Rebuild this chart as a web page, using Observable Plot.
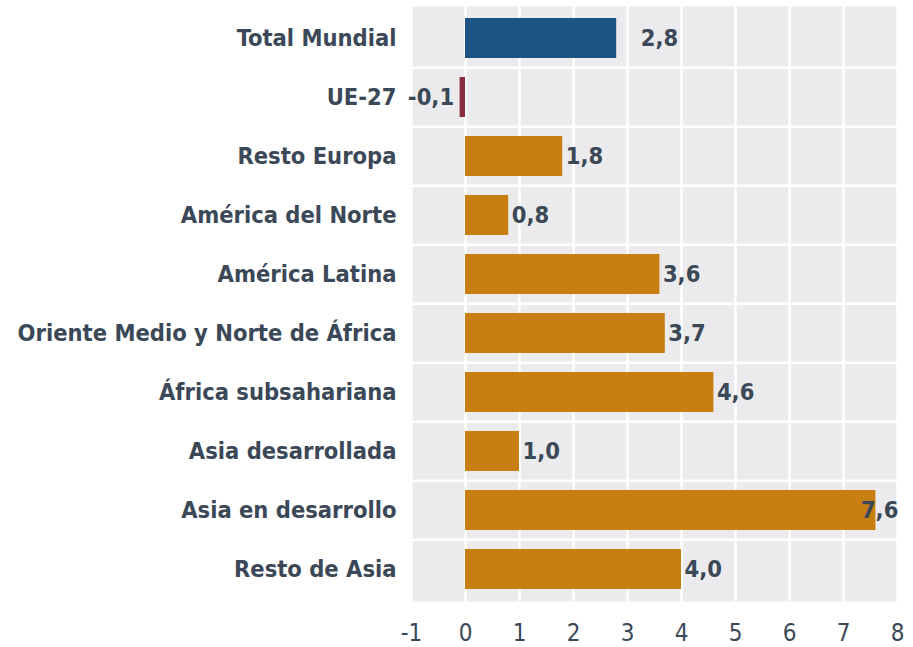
<!DOCTYPE html>
<html>
<head>
<meta charset="utf-8">
<script src="https://cdn.jsdelivr.net/npm/d3@7"></script>
<script src="https://cdn.jsdelivr.net/npm/@observablehq/plot@0.6"></script>
<style>
  html, body { margin: 0; padding: 0; background: #ffffff; }
  #chart svg { display: block; }
</style>
</head>
<body>
<div id="chart"></div>
<script>
const categories = ["Total Mundial", "UE-27", "Resto Europa", "América del Norte", "América Latina",
  "Oriente Medio y Norte de África", "África subsahariana", "Asia desarrollada", "Asia en desarrollo", "Resto de Asia"];
const values = [2.8, -0.1, 1.8, 0.8, 3.6, 3.7, 4.6, 1.0, 7.6, 4.0];
const groups = ["total", "ue", "region", "region", "region", "region", "region", "region", "region", "region"];
const xTicks = [-1, 0, 1, 2, 3, 4, 5, 6, 7, 8];

const data = categories.map((c, i) => ({name: c, value: values[i], group: groups[i]}));
const fmt = v => v.toFixed(1).replace(".", ",");

const W = 913, H = 647;
const mTop = 6, mBottom = 46, mLeft = 411, mRight = 16;
const pInner = 0.33, pOuter = 0.15;
const step = (H - mTop - mBottom) / (categories.length - pInner + 2 * pOuter);
const textColor = "#3b4857";
const font = "DejaVu Sans Condensed";

const chart = Plot.plot({
  width: W,
  height: H,
  marginTop: mTop,
  marginBottom: mBottom,
  marginLeft: mLeft,
  marginRight: mRight,
  style: {fontFamily: font, background: "#ffffff"},
  x: {domain: [-1, 8], ticks: xTicks, tickFormat: d => String(d), label: null},
  y: {domain: categories, paddingInner: pInner, paddingOuter: pOuter, label: null},
  color: {domain: ["total", "ue", "region"], range: ["#1c5583", "#8a3042", "#c67f10"]},
  marks: [
    Plot.frame({fill: "#ebebed", stroke: null}),
    Plot.ruleX(xTicks, {stroke: "#ffffff", strokeWidth: 2.5}),
    Plot.ruleY(categories.slice(1), {y: d => d, dy: -step / 2, stroke: "#ffffff", strokeWidth: 2.5}),
    Plot.barX(data, {x: "value", y: "name", fill: "group"}),
    Plot.axisX({ticks: xTicks, tickSize: 0, tickPadding: 22, fontSize: 24, fill: textColor, tickFormat: d => String(d)}),
    Plot.axisY({tickSize: 0, tickPadding: 15, fontSize: 23.5, fontWeight: "bold", fill: textColor}),
    // value labels
    Plot.text(data.filter(d => d.value >= 0 && d.group === "region" && d.value < 7), {
      x: "value", y: "name", text: d => fmt(d.value), textAnchor: "start", dx: 3,
      fontSize: 23.5, fontWeight: "bold", fill: textColor
    }),
    Plot.text(data.filter(d => d.group === "region" && d.value >= 7), {
      x: "value", y: "name", text: d => fmt(d.value), textAnchor: "start", dx: -15,
      fontSize: 23.5, fontWeight: "bold", fill: textColor
    }),
    Plot.text(data.filter(d => d.group === "total"), {
      x: "value", y: "name", text: d => fmt(d.value), textAnchor: "start", dx: 24,
      fontSize: 23.5, fontWeight: "bold", fill: textColor
    }),
    Plot.text(data.filter(d => d.value < 0), {
      x: "value", y: "name", text: d => fmt(d.value), textAnchor: "end", dx: -6,
      fontSize: 23.5, fontWeight: "bold", fill: textColor
    })
  ]
});
document.getElementById("chart").appendChild(chart);
</script>
</body>
</html>
